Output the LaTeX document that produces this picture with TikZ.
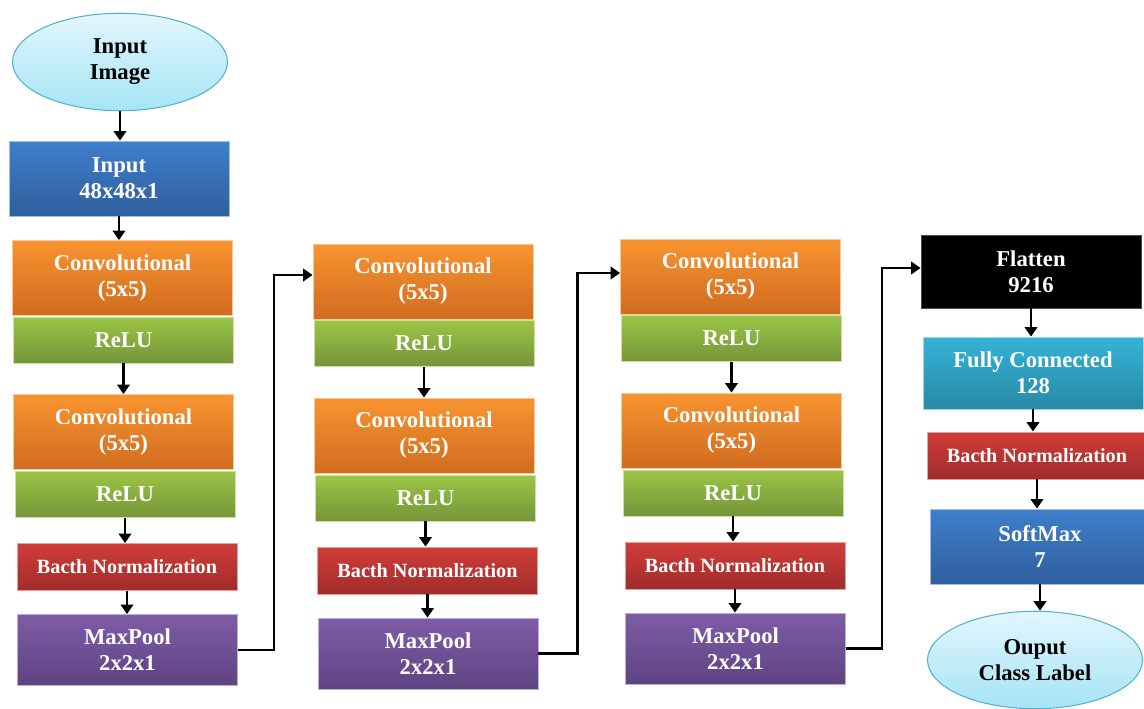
\documentclass[tikz,border=0pt]{standalone}
\usepackage{fontspec}
\setmainfont{Liberation Serif}
\usetikzlibrary{arrows.meta, shapes.geometric}
\definecolor{convtop}{HTML}{F8942F}
\definecolor{convbot}{HTML}{D06C20}
\definecolor{relutop}{HTML}{9CC545}
\definecolor{relubot}{HTML}{74953A}
\definecolor{normtop}{HTML}{D03D3A}
\definecolor{normbot}{HTML}{A02C2A}
\definecolor{pooltop}{HTML}{7F5CA8}
\definecolor{poolbot}{HTML}{5E4381}
\definecolor{bluetop}{HTML}{3F7FCC}
\definecolor{bluebot}{HTML}{2F5E9C}
\definecolor{densetop}{HTML}{35B3D7}
\definecolor{densebot}{HTML}{2889A5}
\definecolor{iotop}{HTML}{E2F6FC}
\definecolor{iobot}{HTML}{A6E4F5}
\definecolor{ioline}{HTML}{4FB3CD}
\tikzset{
  layer/.style    = {rectangle, inner sep=0pt, minimum width=4.4cm, align=center, text=white,
                     font=\fontsize{12.9}{14.8}\selectfont\bfseries, line width=0.5pt},
  convbox/.style  = {layer, minimum height=1.5cm, top color=convtop, bottom color=convbot, draw=convtop!50!white},
  relubox/.style  = {layer, minimum height=0.92cm, top color=relutop, bottom color=relubot, draw=relutop!50!white},
  normbox/.style  = {layer, minimum height=0.94cm, top color=normtop, bottom color=normbot, draw=normtop!50!white,
                     font=\fontsize{11.5}{13}\selectfont\bfseries},
  poolbox/.style  = {layer, minimum height=1.42cm, top color=pooltop, bottom color=poolbot, draw=pooltop!50!white},
  bluebox/.style  = {layer, minimum height=1.5cm, top color=bluetop, bottom color=bluebot, draw=bluetop!50!white},
  densebox/.style = {layer, minimum height=1.44cm, top color=densetop, bottom color=densebot, draw=densetop!50!white},
  flatbox/.style  = {layer, minimum height=1.46cm, fill=black, draw=black!70},
  ioshape/.style  = {ellipse, inner sep=0pt, minimum width=4.3cm, minimum height=1.95cm, align=center, text=black,
                     top color=iotop, bottom color=iobot, draw=ioline, line width=0.6pt,
                     font=\fontsize{12.9}{14.8}\selectfont\bfseries},
  ray/.style      = {-{Triangle[length=1.9mm, width=2.5mm]}, line width=1.6pt, black},
}
\newcommand{\convstack}[3]{%
  \node[convbox] (#1a)  at (#2,     #3)       {Convolutional\\(5x5)};
  \node[relubox] (#1ra) at (#2+1,   #3+62)    {ReLU};
  \node[convbox] (#1b)  at (#2+1,   #3+154)   {Convolutional\\(5x5)};
  \node[relubox] (#1rb) at (#2+2.5, #3+216.5) {ReLU};
  \node[normbox] (#1bn) at (#2+4.5, #3+289)   {Bacth Normalization};
  \node[poolbox] (#1mp) at (#2+5,   #3+372)   {MaxPool\\2x2x1};
  \draw[ray] (#1ra.south) -- (#1ra.south |- #1b.north);
  \draw[ray] (#1rb.south) -- (#1rb.south |- #1bn.north);
  \draw[ray] (#1bn.south) -- (#1bn.south |- #1mp.north);
}
\begin{document}
\begin{tikzpicture}[x=0.02cm, y=-0.02cm]
  \useasboundingbox (0,0) rectangle (1144,709);
  \node[ioshape] (img) at (120,62)    {Input\\Image};
  \node[bluebox] (inp) at (119,178.5) {Input\\48x48x1};
  \convstack{c1}{122.5}{278}
  \convstack{c2}{423}{281.5}
  \convstack{c3}{730.5}{276.5}
  \node[flatbox]  (flat) at (1031,271.5) {Flatten\\9216};
  \node[densebox] (fc)   at (1033,373)   {Fully Connected\\128};
  \node[normbox]  (bn4)  at (1037,455.5) {Bacth Normalization};
  \node[bluebox]  (sm)   at (1040,546.5) {SoftMax\\7};
  \node[ioshape]  (out)  at (1035,660)   {Ouput\\Class Label};
  \draw[ray] (img.south) -- (img.south |- inp.north);
  \draw[ray] (inp.south) -- (inp.south |- c1a.north);
  \draw[ray] (c1mp.east) -- ++(36,0) |- ([yshift=0.13cm]c2a.west);
  \draw[ray] (c2mp.east) -- ++(39,0) |- ([yshift=0.07cm]c3a.west);
  \draw[ray] (c3mp.east) -- ++(36,0) |- ([yshift=0.07cm]flat.west);
  \draw[ray] (flat.south) -- (flat.south |- fc.north);
  \draw[ray] (fc.south) -- (fc.south |- bn4.north);
  \draw[ray] (bn4.south) -- (bn4.south |- sm.north);
  \draw[ray] (sm.south) -- (sm.south |- out.north);
\end{tikzpicture}
\end{document}
